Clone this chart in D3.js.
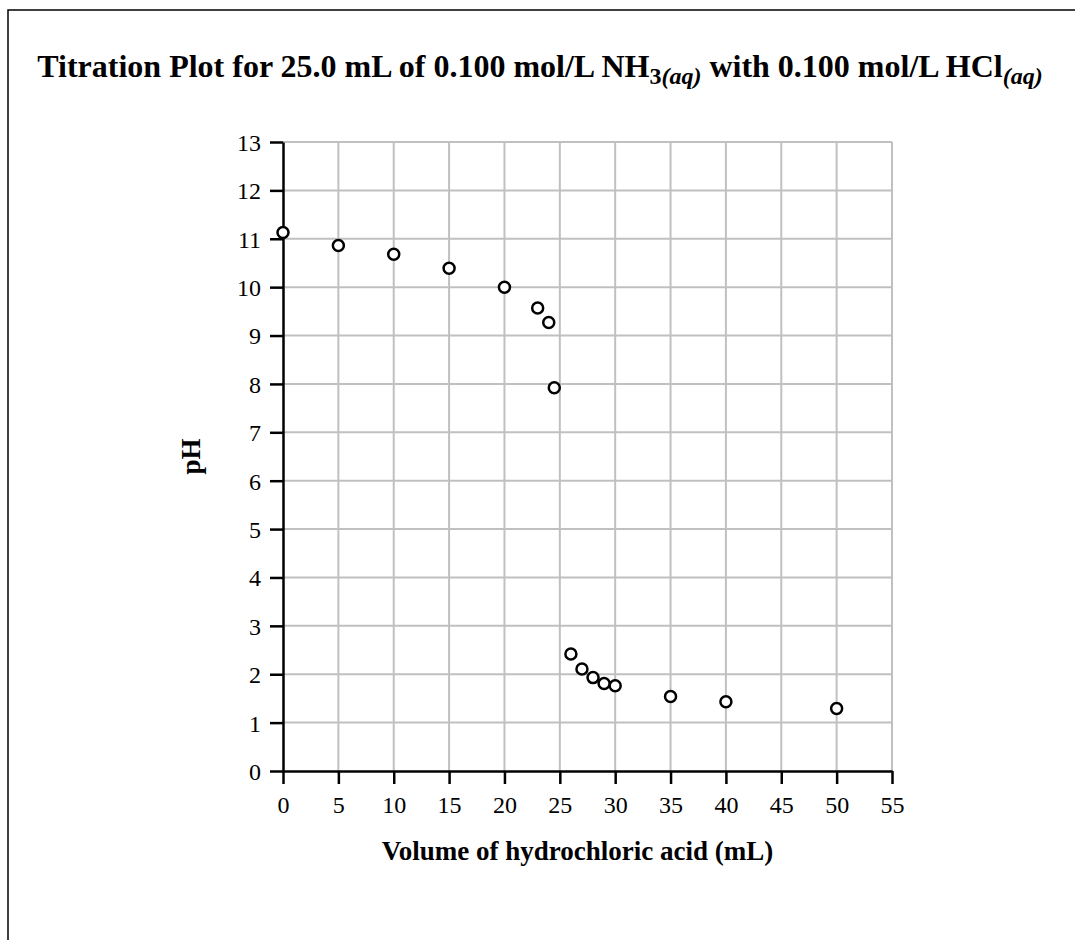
<!DOCTYPE html>
<html>
<head>
<meta charset="utf-8">
<script src="https://cdn.jsdelivr.net/npm/d3@7"></script>
<style>
  body { margin: 0; background: #fff; }
  svg { display: block; font-family: "Liberation Serif", "Times New Roman", serif; }
</style>
</head>
<body>
<div id="chart"><svg width="1075" height="940"></svg></div>
<script>
const volume = [0, 5, 10, 15, 20, 23, 24, 24.5, 26, 27, 28, 29, 30, 35, 40, 50]
const pH = [11.13, 10.86, 10.68, 10.39, 10.0, 9.57, 9.27, 7.92, 2.42, 2.11, 1.93, 1.81, 1.76, 1.54, 1.43, 1.29]
const xTicks = d3.range(0, 56, 5)
const yTicks = d3.range(0, 14, 1)

function draw () {
  const data = volume.map((v, i) => ({ v: v, ph: pH[i] }))
  const svg = d3.select('#chart svg')

  // outer frame, runs off the right and bottom edge like the original
  svg.append('rect')
    .attr('x', 8).attr('y', 10)
    .attr('width', 1200).attr('height', 1100)
    .attr('fill', 'none').attr('stroke', '#000').attr('stroke-width', 1.5)

  const left = 283, right = 892, top = 142, bottom = 771

  const xScale = d3.scaleLinear().domain([0, 55]).range([left, right])
  const yScale = d3.scaleLinear().domain([0, 13]).range([bottom, top])

  // grid
  const grid = svg.append('g').attr('stroke', '#c0c0c0').attr('stroke-width', 2)
  grid.selectAll('.vg')
    .data(xTicks.filter(d => d > 0))
    .join('line')
    .attr('x1', d => xScale(d)).attr('x2', d => xScale(d))
    .attr('y1', top).attr('y2', bottom)
  grid.selectAll('.hg')
    .data(yTicks.filter(d => d > 0))
    .join('line')
    .attr('x1', left).attr('x2', right)
    .attr('y1', d => yScale(d)).attr('y2', d => yScale(d))

  const xAxis = d3.axisBottom(xScale).tickValues(xTicks).tickSize(13).tickPadding(9).tickSizeOuter(0)
  const yAxis = d3.axisLeft(yScale).tickValues(yTicks).tickSize(13).tickPadding(9).tickSizeOuter(0)

  const gx = svg.append('g')
    .attr('transform', `translate(0, ${bottom})`)
    .call(xAxis)
  const gy = svg.append('g')
    .attr('transform', `translate(${left}, 0)`)
    .call(yAxis)

  ;[gx, gy].forEach(g => {
    g.select('.domain').attr('stroke', '#000').attr('stroke-width', 2.5)
    g.selectAll('.tick line').attr('stroke', '#000').attr('stroke-width', 2.5)
    g.selectAll('.tick text')
      .attr('fill', '#000')
      .attr('font-family', '"Liberation Serif", serif')
      .attr('font-size', 24)
  })
  gx.selectAll('.tick text').attr('dy', '0.85em')
  gy.selectAll('.tick text').attr('dy', '0.35em')

  // points
  svg.append('g')
    .selectAll('circle')
    .data(data)
    .join('circle')
    .attr('cx', d => xScale(d.v))
    .attr('cy', d => yScale(d.ph))
    .attr('r', 5.5)
    .attr('fill', '#fff')
    .attr('stroke', '#000')
    .attr('stroke-width', 2.5)

  // title
  const title = svg.append('text')
    .attr('x', 540).attr('y', 77)
    .attr('text-anchor', 'middle')
    .attr('font-weight', 'bold')
    .attr('font-size', 32)
  title.append('tspan').text('Titration Plot for 25.0 mL of 0.100 mol/L NH')
  title.append('tspan').attr('font-size', 24).attr('dy', 7).text('3')
  title.append('tspan').attr('font-size', 24).attr('font-style', 'italic').text('(aq)')
  title.append('tspan').attr('dy', -7).text(' with 0.100 mol/L HCl')
  title.append('tspan').attr('font-size', 24).attr('dy', 7).attr('font-style', 'italic').text('(aq)')

  // axis titles
  svg.append('text')
    .attr('x', (left + right) / 2 - 10).attr('y', 860)
    .attr('text-anchor', 'middle')
    .attr('font-weight', 'bold')
    .attr('font-size', 27)
    .text('Volume of hydrochloric acid (mL)')

  svg.append('text')
    .attr('transform', `translate(200, ${(top + bottom) / 2}) rotate(-90)`)
    .attr('text-anchor', 'middle')
    .attr('font-weight', 'bold')
    .attr('font-size', 27)
    .text('pH')
}

draw()
</script>
</body>
</html>
